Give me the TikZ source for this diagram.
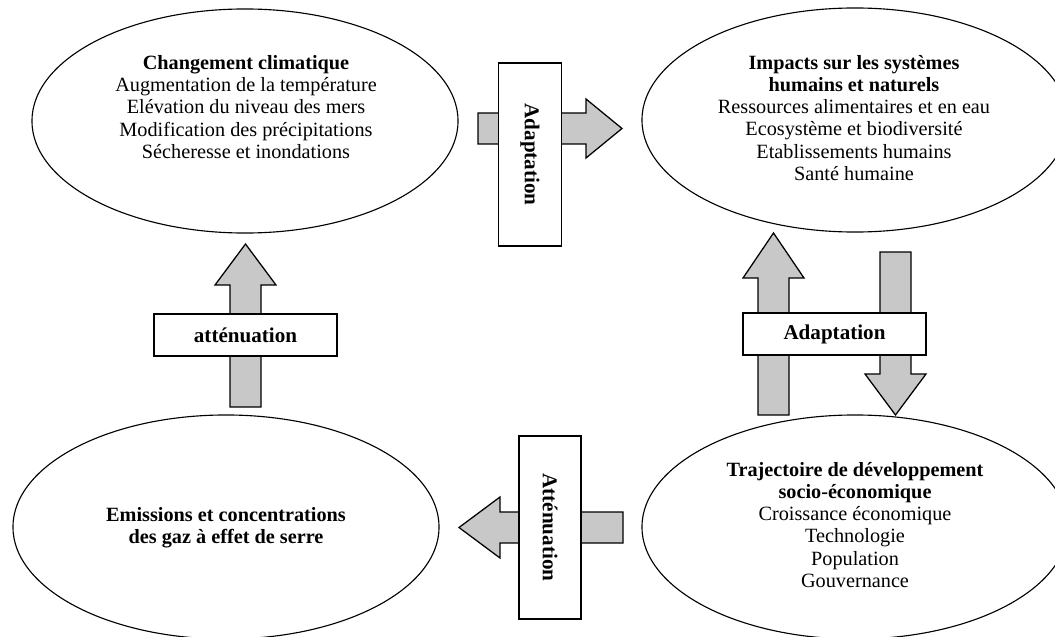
\documentclass[tikz,border=0pt]{standalone}
\usepackage{fontspec}
\setmainfont{Liberation Serif}
\usetikzlibrary{shapes.geometric}

\definecolor{flowgray}{RGB}{200,200,200}

\tikzset{
  bubble/.style={ellipse, draw, line width=0.8pt, minimum width=10.65cm, minimum height=5.6cm, inner sep=0pt},
  bubbletext/.style={align=center, font=\fontsize{14.4}{15.7}\selectfont},
  flow/.style={draw, line width=0.9pt, fill=flowgray, line join=miter},
  labelbox/.style={draw, line width=0.9pt, fill=white, inner sep=0pt, minimum width=4.575cm, minimum height=1.05cm, font=\fontsize{15}{16}\selectfont\bfseries}
}

\begin{document}
\begin{tikzpicture}[x=0.025cm, y=-0.025cm]
  \useasboundingbox (0,0) rectangle (1055,637);

  % the four ellipses
  \node[bubble] (climat) at (245,121) {};
  \node[bubble] (impacts) at (855,120) {};
  \node[bubble] (emissions) at (226,527) {};
  \node[bubble] (trajectoire) at (855,527) {};

  \node[bubbletext] (climattxt) at (246,107) {\textbf{Changement climatique}\\
    Augmentation de la température\\
    Elévation du niveau des mers\\
    Modification des précipitations\\
    Sécheresse et inondations};
  \node[bubbletext] (impactstxt) at (854,118) {\textbf{Impacts sur les systèmes}\\
    \textbf{humains et naturels}\\
    Ressources alimentaires et en eau\\
    Ecosystème et biodiversité\\
    Etablissements humains\\
    Santé humaine};
  \node[bubbletext] (emissionstxt) at (226,528) {\textbf{Emissions et concentrations}\\
    \textbf{des gaz à effet de serre}};
  \node[bubbletext] (trajectoiretxt) at (855,525) {\textbf{Trajectoire de développement}\\
    \textbf{socio-économique}\\
    Croissance économique\\
    Technologie\\
    Population\\
    Gouvernance};

  % block arrows
  \draw[flow] (478,113) -- (586,113) -- (586,99) -- (622,128.5) -- (586,158) -- (586,144) -- (478,144) -- cycle;
  \draw[flow] (230,407) -- (230,285) -- (215,285) -- (245.5,244) -- (276,285) -- (261,285) -- (261,407) -- cycle;
  \draw[flow] (758,415) -- (758,278) -- (743,278) -- (773.5,233) -- (804,278) -- (789,278) -- (789,415) -- cycle;
  \draw[flow] (880,252) -- (880,374) -- (865,374) -- (895.5,415) -- (926,374) -- (911,374) -- (911,252) -- cycle;
  \draw[flow] (623,512) -- (500,512) -- (500,497) -- (459,527.5) -- (500,558) -- (500,543) -- (623,543) -- cycle;

  % labels on the arrows
  \node[labelbox, rotate=-90, minimum height=1.575cm] (adapttop) at (530,154.5) {Adaptation};
  \node[labelbox] (attleft) at (245.5,335) {atténuation};
  \node[labelbox] (adaptright) at (834.5,334) {Adaptation};
  \node[labelbox, rotate=-90, minimum height=1.55cm] (attbottom) at (550,527.5) {Atténuation};
\end{tikzpicture}
\end{document}
